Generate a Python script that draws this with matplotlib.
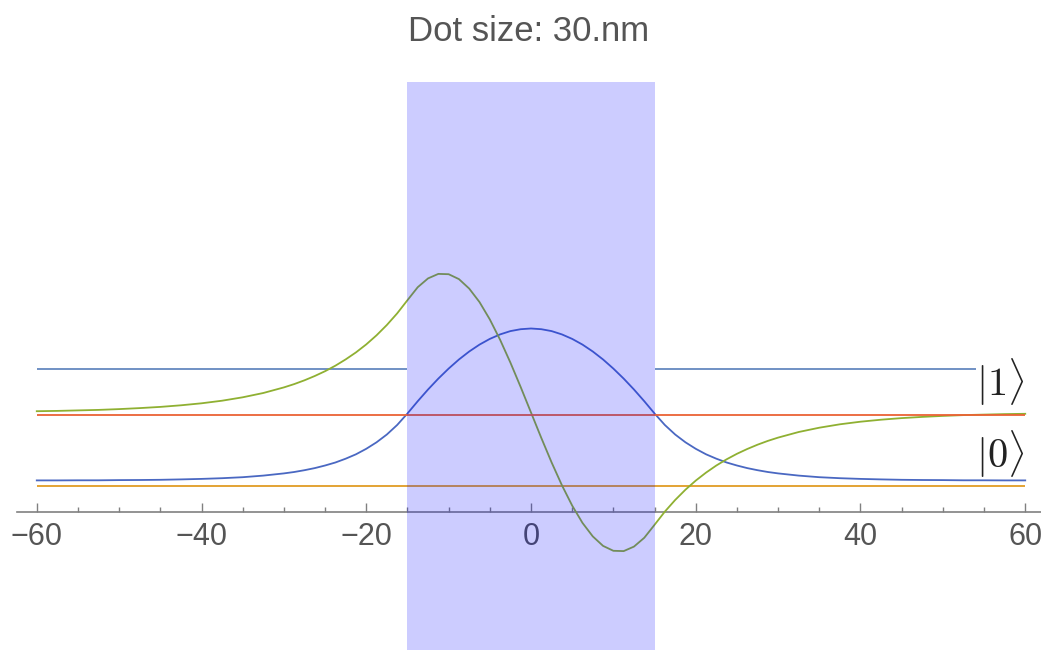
import numpy as np
import matplotlib
matplotlib.use("Agg")
import matplotlib.pyplot as plt

plt.rcParams["mathtext.fontset"] = "cm"

x_nm = [-60, -57.5, -55, -52.5, -50, -47.5, -45, -42.5, -40, -37.5, -35, -32.5,
        -30, -28.75, -27.5, -26.25, -25, -23.75, -22.5, -21.25, -20, -18.75, -17.5, -16.25,
        -15, -13.75, -12.5, -11.25, -10, -8.75, -7.5, -6.25, -5, -3.75, -2.5, -1.25,
        0, 1.25, 2.5, 3.75, 5, 6.25, 7.5, 8.75, 10, 11.25, 12.5, 13.75, 15,
        16.25, 17.5, 18.75, 20, 21.25, 22.5, 23.75, 25, 26.25, 27.5, 28.75, 30,
        32.5, 35, 37.5, 40, 42.5, 45, 47.5, 50, 52.5, 55, 57.5, 60]

# ground state (blue), shifted by its level
psi0 = [31.6, 31.6, 31.7, 31.7, 31.9, 32.0, 32.2, 32.6, 33.1, 33.8, 34.8, 36.4,
        38.6, 40.0, 41.8, 43.9, 46.5, 49.5, 53.3, 57.7, 63.2, 69.7, 77.5, 87.0,
        98.5, 110.8, 122.5, 133.4, 143.4, 152.5, 160.5, 167.4, 173.1, 177.6, 180.9, 182.8,
        183.5, 182.8, 180.9, 177.6, 173.1, 167.4, 160.5, 152.5, 143.4, 133.4, 122.5, 110.8, 98.5,
        87.0, 77.5, 69.7, 63.2, 57.7, 53.3, 49.5, 46.5, 43.9, 41.8, 40.0, 38.6,
        36.4, 34.8, 33.8, 33.1, 32.6, 32.2, 32.0, 31.9, 31.7, 31.7, 31.6, 31.6]

# first excited state (green), shifted by its level
psi1 = [100.8, 101.1, 101.6, 102.1, 102.9, 103.9, 105.1, 106.7, 108.7, 111.3, 114.7, 119.0,
        124.6, 127.9, 131.7, 136.0, 140.8, 146.3, 152.6, 159.6, 167.6, 176.7, 187.0, 198.6,
        211.8, 224.8, 233.6, 238.1, 237.8, 232.9, 223.4, 209.9, 192.6, 172.2, 149.4, 124.9,
        99.5, 74.1, 49.6, 26.8, 6.4, -10.9, -24.4, -33.9, -38.8, -39.1, -34.6, -25.8, -12.8,
        0.4, 12.0, 22.3, 31.4, 39.4, 46.5, 52.7, 58.2, 63.0, 67.3, 71.1, 74.4,
        80.0, 84.3, 87.7, 90.3, 92.3, 93.9, 95.1, 96.1, 96.9, 97.4, 97.9, 98.2]

dot_edges = [-15, 15]
x_range = [-60, 60]
barrier = 143.5
level_0 = 26.0
level_1 = 97.0
ket_labels = [r"$|1\rangle$", r"$|0\rangle$"]
ket_y = [130, 58]

fig = plt.figure(figsize=(10.41, 6.5), dpi=100)
ax = fig.add_axes([17 / 1041, 0, 1028 / 1041, 568 / 650])
ax.set_xlim(-62.4, 62.4)
ax.set_ylim(-138, 430)

# potential outside the dot (sits under the labels)
ax.hlines([barrier, barrier], [x_range[0], dot_edges[1]], [dot_edges[0], x_range[1]],
          color="#7090c4", lw=1.4, zorder=3)
ax.hlines(level_0, x_range[0], x_range[1], color="#e19c24", lw=1.3, zorder=7)
ax.plot(x_nm, psi0, color="#4a68c2", lw=1.3, zorder=7)
ax.plot(x_nm, psi1, color="#8fb032", lw=1.3, zorder=7)
ax.hlines(level_1, x_range[0], x_range[1], color="#eb6235", lw=1.3, zorder=7)

# the dot itself
ax.axvspan(dot_edges[0], dot_edges[1], color=(0, 0, 1), alpha=0.2, lw=0, zorder=10)

for lab, yy in zip(ket_labels, ket_y):
    ax.text(57, yy, lab, fontsize=29, ha="center", va="center", color="#222222",
            bbox=dict(facecolor="white", edgecolor="none", pad=0), zorder=6)

for s in ["top", "left", "right"]:
    ax.spines[s].set_visible(False)
ax.spines["bottom"].set_position(("data", 0))
ax.spines["bottom"].set_color("#808080")
ax.spines["bottom"].set_linewidth(1.2)
ax.set_yticks([])
ax.set_xticks(np.arange(-60, 61, 20))
ax.set_xticks(np.arange(-60, 61, 5), minor=True)
ax.tick_params(axis="x", which="major", direction="in", length=6.5, width=1,
               color="#808080", pad=7, labelsize=22, labelcolor="#555555")
ax.tick_params(axis="x", which="minor", direction="in", length=3.6, width=1,
               color="#808080")
for t in ax.get_xticklabels():
    t.set_family("Liberation Sans")
ax.patch.set_visible(False)

fig.text(529 / 1041, 1 - 40.7 / 650, "Dot size: 30.nm", ha="center", va="baseline",
         fontsize=25, color="#555555", family="Liberation Sans")

fig.savefig("out.png", dpi=100)
